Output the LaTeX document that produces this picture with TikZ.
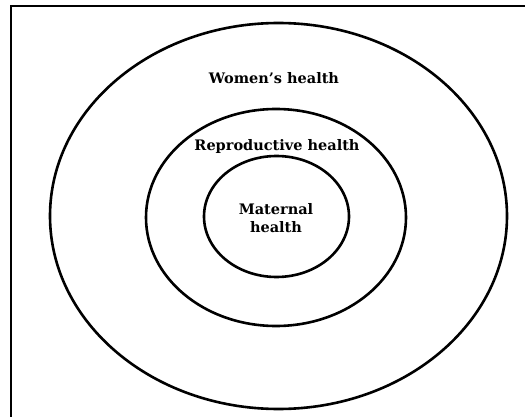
\documentclass[tikz,border=0pt]{standalone}
\usepackage{fontspec}
\setmainfont{DejaVu Serif}
\begin{document}
\begin{tikzpicture}[x=1pt,y=-1pt,
  ring/.style={line width=2.6pt, draw=black},
  lbl/.style={font=\bfseries\fontsize{14.5}{18}\selectfont, align=center, inner sep=0pt}]
\useasboundingbox (0,0) rectangle (525,417);
\draw[line width=1.8pt] (11,417) -- (11,6) -- (525,6);
\draw[ring] (278.5,216) ellipse [x radius=228.5, y radius=193];
\draw[ring] (276,217.5) ellipse [x radius=130, y radius=108.5];
\draw[ring] (276.5,216.5) ellipse [x radius=72.5, y radius=60.5];
\node[lbl] (w) at (274,78) {Women's health};
\node[lbl] (r) at (277,147) {Reproductive health};
\node[lbl] (m) at (276,218) {Maternal\\health};
\end{tikzpicture}
\end{document}
